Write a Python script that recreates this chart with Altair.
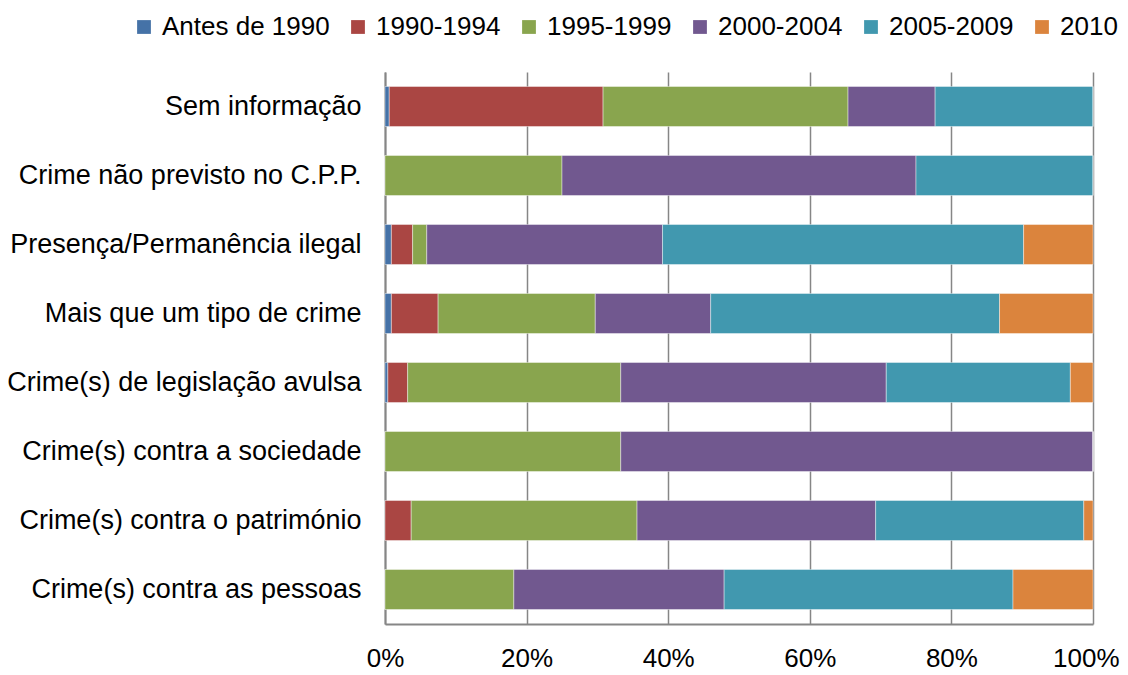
import altair as alt
import pandas as pd

categories = [
    "Sem informação",
    "Crime não previsto no C.P.P.",
    "Presença/Permanência ilegal",
    "Mais que um tipo de crime",
    "Crime(s) de legislação avulsa",
    "Crime(s) contra a sociedade",
    "Crime(s) contra o património",
    "Crime(s) contra as pessoas",
]
series = ["Antes de 1990", "1990-1994", "1995-1999", "2000-2004", "2005-2009", "2010"]
colors = ["#4572A7", "#AA4643", "#89A54E", "#71588F", "#4198AF", "#DB843D"]

antes_1990 = [0.6, 0.0, 0.9, 0.9, 0.4, 0.0, 0.0, 0.0]
s1990_1994 = [30.2, 0.0, 3.0, 6.6, 2.8, 0.0, 3.7, 0.0]
s1995_1999 = [34.6, 25.0, 2.0, 22.2, 30.1, 33.3, 31.9, 18.2]
s2000_2004 = [12.3, 50.0, 33.3, 16.3, 37.5, 66.7, 33.7, 29.7]
s2005_2009 = [22.3, 25.0, 51.0, 40.8, 26.0, 0.0, 29.4, 40.8]
s2010 = [0.0, 0.0, 9.8, 13.2, 3.2, 0.0, 1.3, 11.3]

values = [antes_1990, s1990_1994, s1995_1999, s2000_2004, s2005_2009, s2010]

rows = []
for si, (name, vals) in enumerate(zip(series, values)):
    for ci, cat in enumerate(categories):
        rows.append({"cat": cat, "serie": name, "ord": si, "v": vals[ci]})
df = pd.DataFrame(rows)

FONT = "Liberation Sans"

chart = alt.Chart(df).mark_bar(stroke="#ffffff", strokeWidth=0.6, strokeOpacity=0.7).encode(
    y=alt.Y("cat:N", sort=categories, title=None,
            scale=alt.Scale(paddingInner=0.42, paddingOuter=0.21),
            axis=alt.Axis(labelFontSize=27, labelFont=FONT, labelColor="#000000",
                          labelPadding=24, ticks=False, domainColor="#868686",
                          domainWidth=2, labelLimit=420)),
    x=alt.X("v:Q", stack="normalize", title=None,
            scale=alt.Scale(domain=[0, 1], nice=False),
            axis=alt.Axis(format=".0%", values=[0, 0.2, 0.4, 0.6, 0.8, 1.0],
                          labelFontSize=26, labelFont=FONT, labelColor="#000000",
                          labelPadding=21, labelFlush=False,
                          labelAlign={"expr": "datum.value >= 1 ? 'right' : 'center'"},
                          labelOffset={"expr": "datum.value >= 1 ? 26 : 0"},
                          grid=True, gridColor="#868686", gridWidth=1.5,
                          domainColor="#868686", domainWidth=2, ticks=False)),
    color=alt.Color("serie:N", sort=series,
                    scale=alt.Scale(domain=series, range=colors),
                    legend=alt.Legend(title=None, orient="none", direction="horizontal",
                                      legendX=-254, legendY=-58, columns=6,
                                      symbolType="square", symbolSize=190,
                                      symbolStrokeWidth=0, labelFontSize=26,
                                      labelFont=FONT, labelColor="#000000",
                                      labelLimit=300,
                                      columnPadding=15, labelOffset=5)),
    order=alt.Order("ord:Q"),
).properties(
    width=708, height=552,
    autosize=alt.AutoSizeParams(type="none"),
    padding={"left": 377, "top": 64, "right": 27, "bottom": 50},
).configure_view(stroke=None)

chart.save("out.html", embed_options={"renderer": "svg", "actions": False})
